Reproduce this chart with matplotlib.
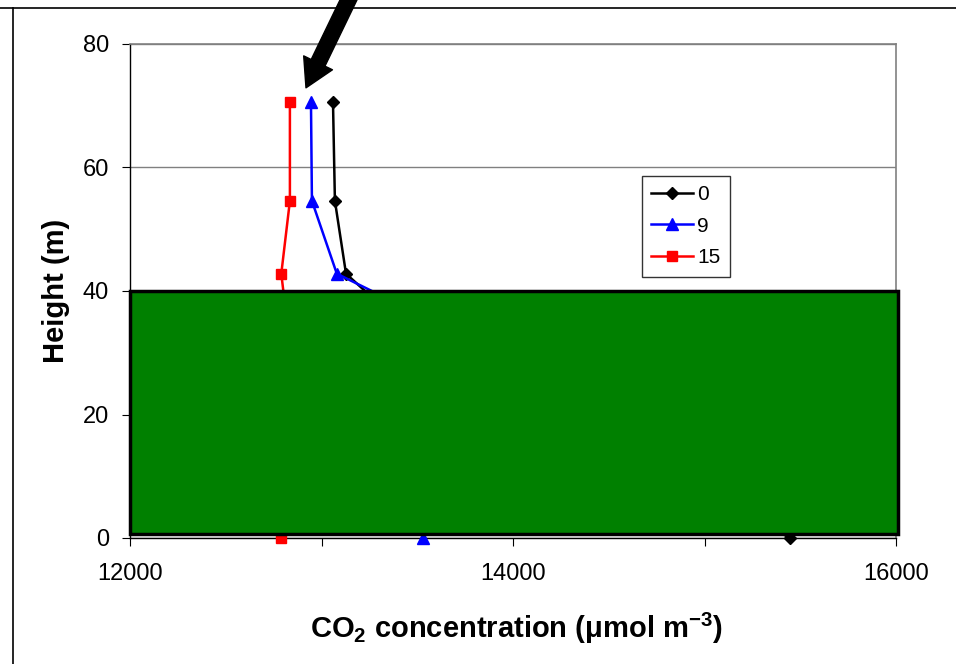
import matplotlib
matplotlib.use('Agg')
import matplotlib.pyplot as plt
import matplotlib.patches as patches
from matplotlib.lines import Line2D
from matplotlib.ticker import MultipleLocator

plt.rcParams['font.family'] = ['Liberation Sans', 'DejaVu Sans']
plt.rcParams['mathtext.fontset'] = 'custom'
plt.rcParams['mathtext.rm'] = 'Liberation Sans:bold'
plt.rcParams['mathtext.bf'] = 'Liberation Sans:bold'

# CO2 profiles (umol m-3) at each height, one series per time label
heights = [70.6, 54.6, 42.8, 35.0, 0.0]
co2_0 = [13060, 13070, 13128, 13405, 15446]
co2_9 = [12945, 12950, 13080, 13590, 13530]
co2_15 = [12835, 12835, 12790, 12820, 12790]
series_labels = ['0', '9', '15']

canopy_top = 40
canopy_bottom = 0.7

fig = plt.figure(figsize=(9.56, 6.64), dpi=100)
ax = fig.add_axes([130 / 956, 1 - 538 / 664, 766 / 956, 494 / 664])

ax.plot(co2_0, heights, color='black', lw=1.8, marker='D', ms=6, label=series_labels[0], clip_on=False, zorder=3)
ax.plot(co2_9, heights, color='#0000ff', lw=1.8, marker='^', ms=8, label=series_labels[1], clip_on=False, zorder=3)
ax.plot(co2_15, heights, color='#ff0000', lw=1.8, marker='s', ms=7, label=series_labels[2], clip_on=False, zorder=3)

# forest canopy block covering the lower profile
canopy = patches.Rectangle((12000, canopy_bottom), 4010, canopy_top - canopy_bottom,
                           facecolor='#008000', edgecolor='black', lw=2.5,
                           zorder=5, clip_on=False)
ax.add_patch(canopy)

ax.set_xlim(12000, 16000)
ax.set_ylim(0, 80)
ax.xaxis.set_major_locator(MultipleLocator(2000))
ax.xaxis.set_minor_locator(MultipleLocator(1000))
ax.yaxis.set_major_locator(MultipleLocator(20))
ax.tick_params(axis='both', which='both', direction='out', length=6, width=0.8, labelsize=17)
ax.tick_params(axis='x', pad=12)
ax.tick_params(axis='y', pad=9)
ax.grid(axis='y', color='#808080', lw=1)
ax.set_axisbelow(True)

for side in ['top', 'right']:
    ax.spines[side].set_color('#808080')
    ax.spines[side].set_linewidth(1.2)
for side in ['left', 'bottom']:
    ax.spines[side].set_color('black')
    ax.spines[side].set_linewidth(1)

ax.set_ylabel('Height (m)', fontsize=21, fontweight='bold')
ax.set_xlabel(r'CO$_2$ concentration ($\mathregular{\mu}$mol m$^{-3}$)', fontsize=21, fontweight='bold')
ax.yaxis.set_label_coords(-0.078, 0.5)
ax.xaxis.set_label_coords(0.504, -0.148)

leg = ax.legend(loc='upper left', bbox_to_anchor=(0.668, 0.733), fontsize=15,
                frameon=True, fancybox=False, borderaxespad=0, handlelength=2.0,
                handletextpad=0.2, labelspacing=0.6, borderpad=0.45)
leg.get_frame().set_edgecolor('black')
leg.get_frame().set_linewidth(1)
leg.set_zorder(6)

# arrow pointing at the top of the profiles
ax.annotate('', xy=(12919, 72.9), xytext=(13170, 89), xycoords='data', textcoords='data',
            annotation_clip=False,
            arrowprops=dict(arrowstyle='simple,head_length=20,head_width=23,tail_width=11',
                            mutation_scale=1, color='black', shrinkA=0, shrinkB=0))

# outer chart border
fig.add_artist(Line2D([0, 1], [1 - 8 / 664, 1 - 8 / 664], color='black', lw=1.2, transform=fig.transFigure))
fig.add_artist(Line2D([13 / 956, 13 / 956], [0, 1 - 8 / 664], color='black', lw=1.2, transform=fig.transFigure))

fig.savefig('out.png', dpi=100)
